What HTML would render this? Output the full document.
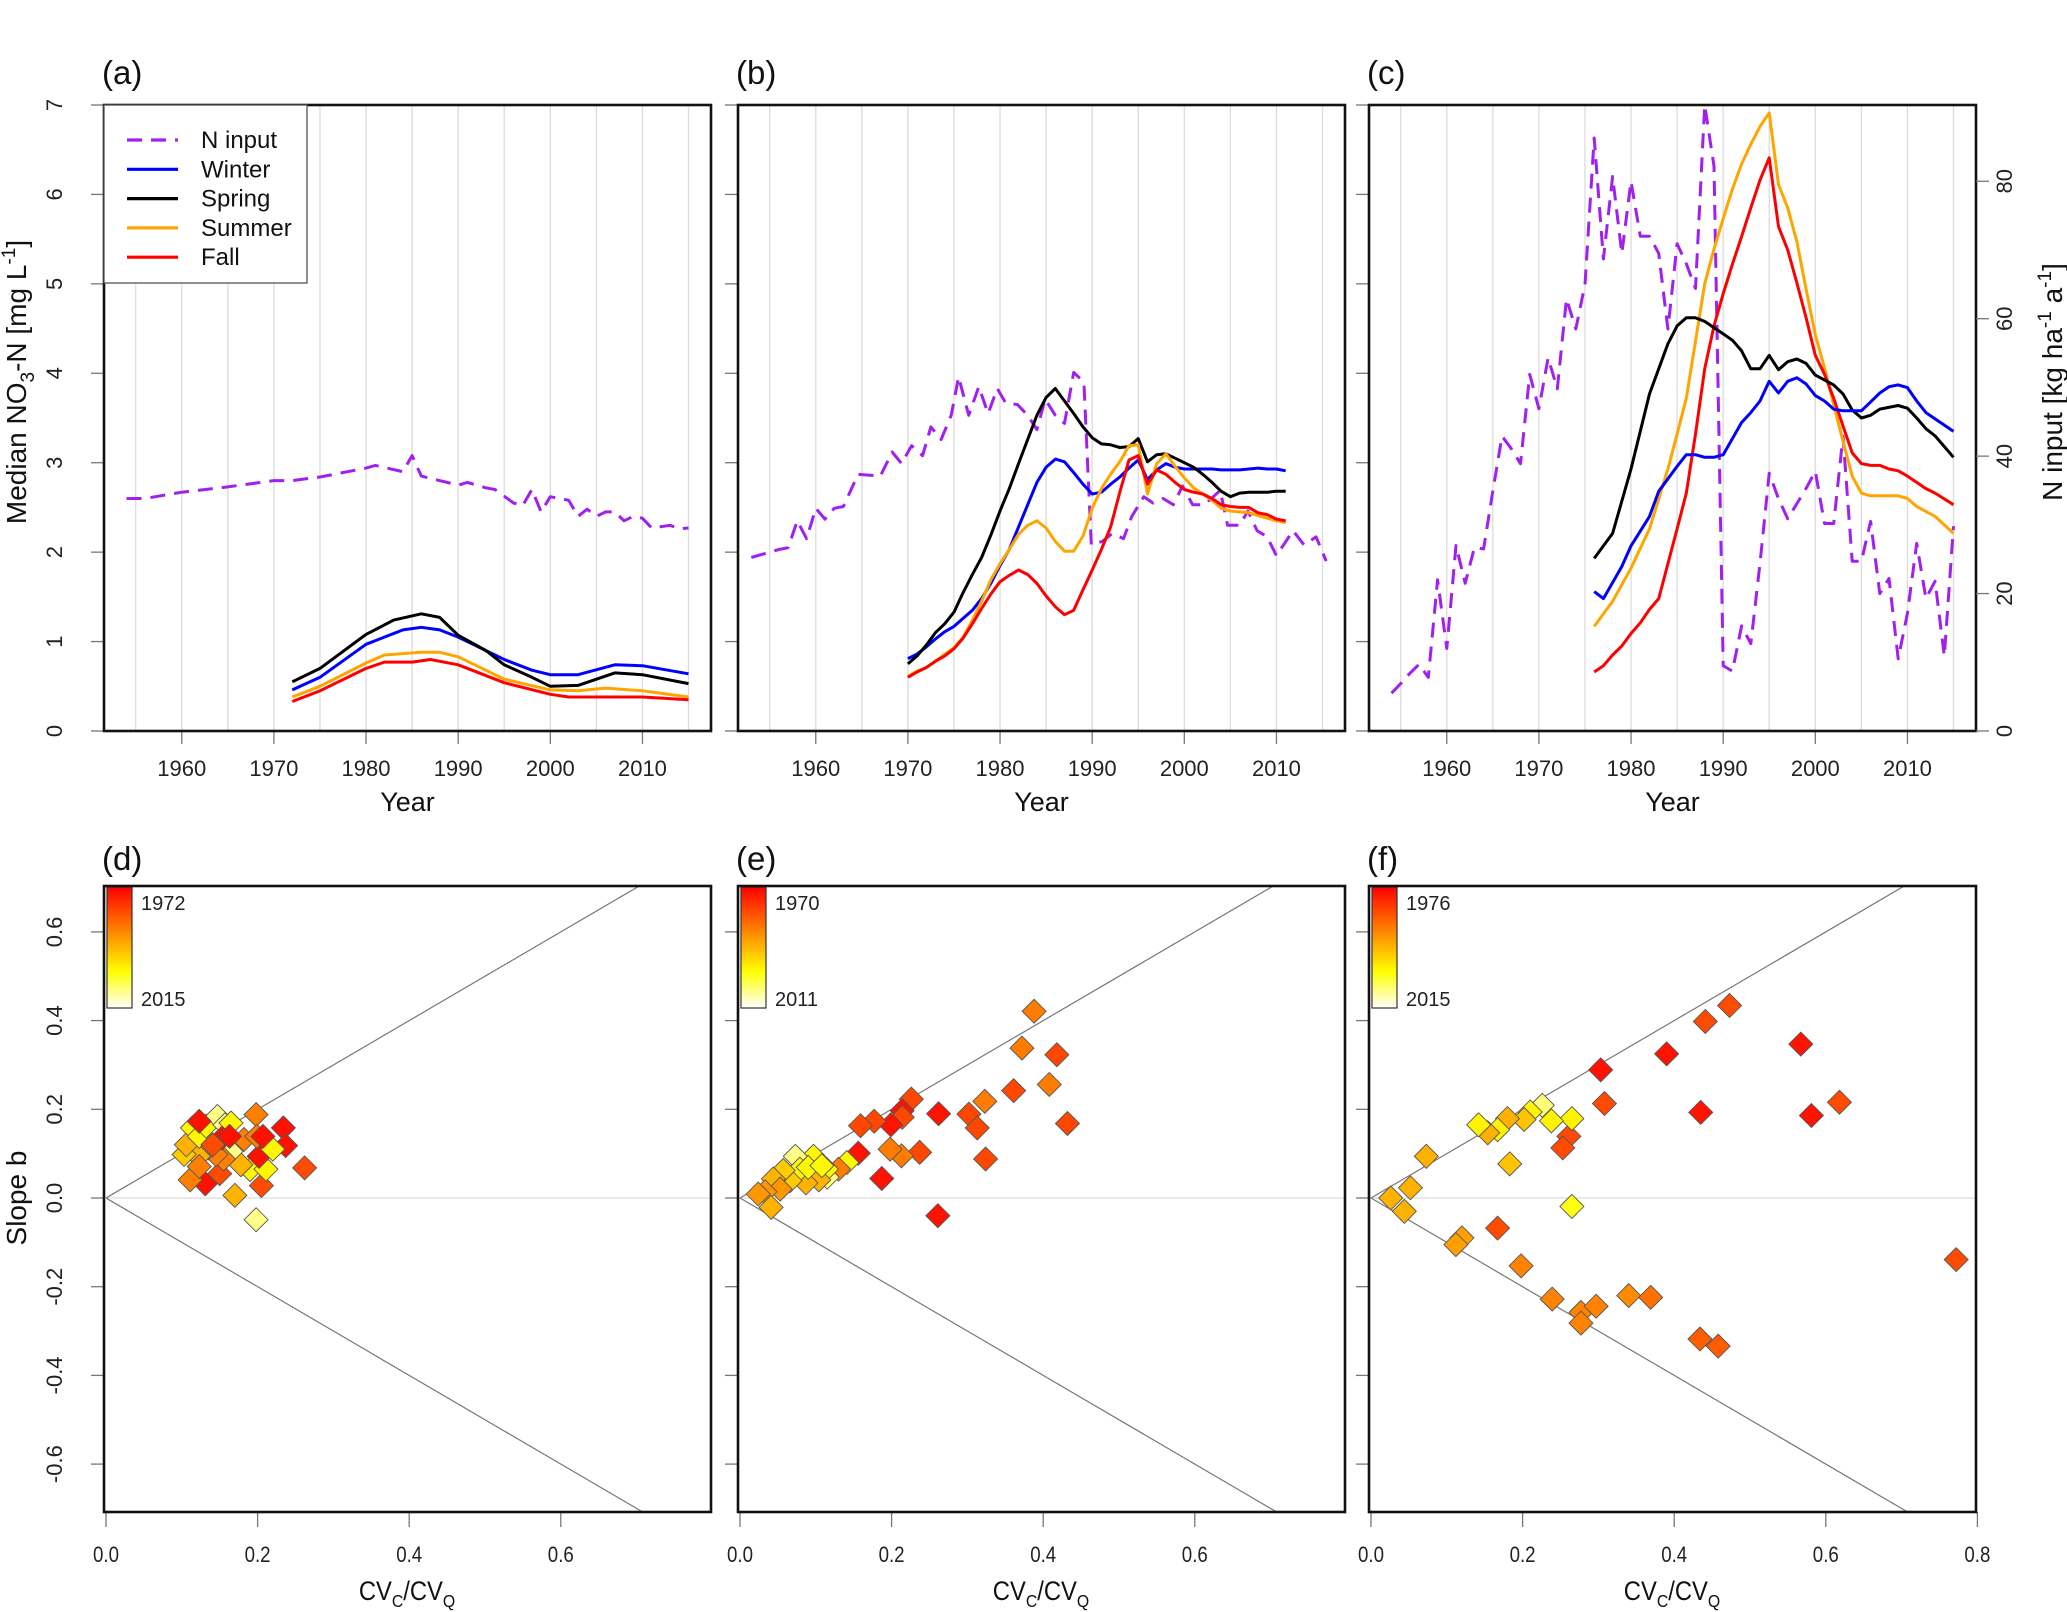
<!DOCTYPE html>
<html><head><meta charset="utf-8"><style>
html,body{margin:0;padding:0;background:#fff;}
svg{display:block;font-family:"Liberation Sans",Arial,sans-serif;}
</style></head><body>
<svg id="fig" width="2067" height="1612" viewBox="0 0 2067 1612" xmlns="http://www.w3.org/2000/svg">
<defs>
<linearGradient id="cbar" x1="0" y1="0" x2="0" y2="1">
<stop offset="0" stop-color="#ff0000"/><stop offset="0.35" stop-color="#ff8000"/><stop offset="0.7" stop-color="#ffff00"/><stop offset="1" stop-color="#ffffff"/>
</linearGradient>
<clipPath id="clipD"><rect x="106" y="886" width="607" height="626"/></clipPath>
<clipPath id="clipE"><rect x="738" y="886" width="607" height="626"/></clipPath>
<clipPath id="clipF"><rect x="1369" y="886" width="607" height="626"/></clipPath>
</defs>
</svg>
<script>
// ---------- data: top panels (NO3-N in mg/L; N input a,b on left scale, c in kg/ha/a) ----------
const aNYears=[1954,1956,1960,1965,1970,1972,1975,1980,1981,1984,1985,1986,1990,1991,1993,1994,1996,1997,1998,1999,2000,2001,2002,2003,2004,2005,2006,2007,2008,2009,2010,2011,2013,2014,2015];
const aNVals=[2.6,2.6,2.67,2.73,2.8,2.8,2.84,2.94,2.97,2.9,3.08,2.85,2.75,2.78,2.72,2.70,2.55,2.52,2.7,2.45,2.62,2.6,2.58,2.4,2.48,2.40,2.45,2.45,2.35,2.40,2.38,2.27,2.3,2.26,2.27];
const aWinYears=[1972,1975,1980,1984,1986,1988,1990,1992,1995,1998,2000,2003,2007,2010,2015];
const aWinVals=[0.46,0.60,0.97,1.13,1.16,1.13,1.05,0.95,0.80,0.68,0.63,0.63,0.74,0.73,0.64];
const aSprYears=[1972,1975,1980,1983,1986,1988,1990,1993,1995,1998,2000,2003,2007,2010,2015];
const aSprVals=[0.55,0.70,1.08,1.24,1.31,1.27,1.07,0.90,0.74,0.60,0.50,0.51,0.65,0.63,0.53];
const aSumYears=[1972,1975,1980,1982,1986,1988,1990,1995,2000,2003,2006,2010,2015];
const aSumVals=[0.38,0.50,0.76,0.85,0.88,0.88,0.83,0.58,0.46,0.45,0.48,0.45,0.38];
const aFalYears=[1972,1975,1980,1982,1985,1987,1990,1995,2000,2002,2010,2015];
const aFalVals=[0.33,0.45,0.70,0.77,0.77,0.80,0.74,0.54,0.41,0.38,0.38,0.35];

const bYears=[1970,1971,1972,1973,1974,1975,1976,1977,1978,1979,1980,1981,1982,1983,1984,1985,1986,1987,1988,1989,1990,1991,1992,1993,1994,1995,1996,1997,1998,1999,2000,2001,2002,2003,2004,2005,2006,2007,2008,2009,2010,2011];
const bSprVals=[0.75,0.84,0.96,1.10,1.20,1.33,1.55,1.75,1.94,2.19,2.46,2.71,2.99,3.26,3.53,3.73,3.83,3.69,3.55,3.40,3.28,3.21,3.20,3.17,3.18,3.27,3.01,3.09,3.10,3.05,3.00,2.95,2.87,2.78,2.68,2.62,2.66,2.67,2.67,2.67,2.68,2.68];
const bWinVals=[0.81,0.86,0.94,1.03,1.11,1.17,1.26,1.35,1.48,1.65,1.85,2.03,2.28,2.53,2.78,2.95,3.04,3.01,2.89,2.76,2.65,2.67,2.76,2.84,2.94,3.03,2.81,2.92,2.99,2.95,2.93,2.93,2.93,2.93,2.92,2.92,2.92,2.93,2.94,2.93,2.93,2.91];
const bSumVals=[0.61,0.67,0.71,0.78,0.86,0.93,1.05,1.24,1.45,1.69,1.87,2.03,2.20,2.30,2.35,2.27,2.12,2.01,2.01,2.18,2.49,2.71,2.87,3.01,3.19,3.20,2.65,2.99,3.10,2.96,2.83,2.72,2.65,2.58,2.49,2.46,2.45,2.44,2.41,2.38,2.35,2.33];
const bFalVals=[0.60,0.66,0.71,0.78,0.84,0.92,1.04,1.20,1.37,1.53,1.67,1.74,1.80,1.75,1.65,1.51,1.39,1.30,1.35,1.58,1.80,2.03,2.28,2.67,3.03,3.08,2.76,2.92,2.87,2.78,2.70,2.67,2.65,2.60,2.53,2.51,2.50,2.50,2.44,2.42,2.37,2.35];
const bNYears=[1953,1956,1957,1958,1959,1960,1961,1962,1963,1964.6,1967,1968.3,1969.3,1970.4,1971.6,1972.5,1973.6,1974.7,1975.5,1976.6,1977.7,1978.7,1979.7,1980.6,1981.9,1983,1984,1984.9,1986,1987,1988,1989.1,1989.9,1991.1,1992.2,1993.4,1994.3,1995.6,1996.6,1997.7,1998.8,1999.8,2000.9,2002.2,2003.9,2004.7,2006,2006.9,2007.9,2009,2010,2011.8,2013,2014.3,2015.4];
const bNVals=[1.94,2.03,2.05,2.35,2.15,2.49,2.37,2.49,2.51,2.87,2.85,3.12,2.99,3.19,3.08,3.40,3.26,3.53,3.96,3.53,3.85,3.55,3.83,3.67,3.65,3.53,3.37,3.71,3.53,3.44,4.01,3.90,2.08,2.12,2.21,2.15,2.40,2.62,2.55,2.60,2.53,2.74,2.53,2.53,2.69,2.30,2.30,2.46,2.24,2.17,1.96,2.24,2.08,2.17,1.90];

const cSprYears=[1976,1978,1980,1982,1984,1985,1986,1987,1988,1990,1991,1992,1993,1994,1995,1996,1997,1998,1999,2000,2002,2003,2004,2005,2006,2007,2009,2010,2011,2012,2013,2015];
const cSprVals=[1.93,2.21,2.93,3.77,4.33,4.53,4.62,4.62,4.58,4.44,4.37,4.25,4.05,4.05,4.20,4.04,4.13,4.16,4.11,3.98,3.87,3.77,3.59,3.50,3.53,3.60,3.64,3.61,3.50,3.38,3.30,3.06];
const cWinYears=[1976,1977,1979,1980,1982,1983,1984,1985,1986,1987,1988,1989,1990,1991,1992,1993,1994,1995,1996,1997,1998,1999,2000,2001,2002,2003,2005,2006,2007,2008,2009,2010,2011,2012,2013,2015];
const cWinVals=[1.56,1.48,1.84,2.07,2.40,2.68,2.82,2.96,3.09,3.09,3.06,3.06,3.09,3.27,3.45,3.56,3.69,3.91,3.78,3.91,3.95,3.88,3.75,3.69,3.60,3.58,3.58,3.68,3.78,3.85,3.87,3.84,3.69,3.56,3.49,3.35];
const cSumYears=[1976,1978,1980,1982,1984,1985,1986,1987,1988,1989,1990,1991,1992,1993,1994,1995,1996,1997,1998,1999,2000,2001,2002,2003,2004,2005,2006,2008,2009,2010,2011,2013,2015];
const cSumVals=[1.17,1.45,1.82,2.26,2.93,3.32,3.72,4.36,5.00,5.39,5.73,6.06,6.34,6.56,6.76,6.91,6.11,5.85,5.47,4.94,4.43,4.06,3.65,3.24,2.85,2.66,2.63,2.63,2.63,2.60,2.51,2.40,2.21];
const cFalYears=[1976,1977,1978,1979,1980,1981,1982,1983,1984,1985,1986,1987,1988,1989,1990,1991,1992,1993,1994,1995,1996,1997,1998,1999,2000,2001,2002,2003,2004,2005,2006,2007,2008,2009,2010,2011,2012,2013,2015];
const cFalVals=[0.66,0.73,0.85,0.95,1.09,1.21,1.36,1.48,1.87,2.26,2.66,3.32,4.05,4.53,4.89,5.22,5.53,5.85,6.16,6.41,5.64,5.38,5.01,4.62,4.20,3.99,3.72,3.41,3.11,2.99,2.97,2.97,2.93,2.91,2.85,2.78,2.71,2.66,2.53];
const cNYears=[1954,1955,1956,1957,1958,1959,1960,1961,1962,1963,1964,1965,1966,1967,1968,1969,1970,1971,1972,1973,1974,1975,1976,1977,1978,1979,1980,1981,1982,1983,1984,1985,1986,1987,1988,1989,1990,1991,1992,1993,1994,1995,1996,1997,1998,1999,2000,2001,2002,2003,2004,2005,2006,2007,2008,2009,2010,2011,2012,2013,2014,2015];
const cNVals=[5.5,6.9,8.4,9.7,7.8,22,12,27,21.5,26.7,26.5,34.9,42.9,41.1,38.9,51.9,46.9,54.3,49.8,62.9,58.5,65,86.3,68.7,80.7,69.5,80,72,72,69.5,58.5,70.9,68,64.4,91.1,82.2,9.5,8.7,15.3,12.7,24.4,37.5,33.8,30.9,33.1,35.3,37.8,30.2,30.2,42.9,24.7,24.7,30.5,20,22.2,10.5,17.1,27.3,19.3,21.8,10.9,29.8];

// ---------- data: bottom panels (CVc/CVQ, slope b, year) ----------
const dX=[.198,.234,.237,.262,.205,.198,.170,.131,.111,.150,.190,.211,.178,.202,.220,.182,.199,.207,.165,.155,.145,.135,.122,.103,.106,.123,.114,.123,.132,.147,.157,.165,.153,.163,.123,.141];
const dY=[.188,.158,.118,.068,.028,-.049,.006,.032,.041,.055,.064,.065,.075,.094,.110,.132,.139,.139,.105,.088,.098,.113,.094,.098,.120,.071,.158,.139,.162,.184,.165,.169,.135,.139,.173,.120];
const dYr=[1987,1974,1974,1981,1981,2009,1993,1974,1987,1981,2001,2001,1993,1974,2001,1987,1987,1974,2009,1987,1987,1987,1993,1996,1993,1987,2001,2001,2001,2009,2009,2001,1974,1974,1974,1981];
const eX=[.388,.372,.418,.361,.408,.323,.432,.226,.214,.214,.199,.177,.159,.262,.302,.313,.324,.237,.213,.198,.156,.187,.261,.141,.130,.115,.114,.104,.097,.087,.073,.079,.066,.057,.044,.053,.033,.024,.041,.090,.108];
const eY=[.421,.338,.323,.242,.256,.218,.168,.223,.197,.182,.165,.173,.163,.190,.189,.158,.088,.103,.095,.110,.101,.044,-.040,.080,.065,.047,.065,.041,.094,.034,.094,.065,.039,.062,.043,.020,.014,.009,-.021,.069,.073];
const eYr=[1984,1984,1978,1978,1984,1984,1978,1978,1972,1978,1972,1978,1978,1972,1978,1978,1978,1978,1984,1984,1972,1972,1972,1998,1984,2005,1998,1990,1998,1990,2005,1998,1993,1993,1990,1987,1987,1987,1990,1998,1998];
const fX=[.473,.441,.567,.390,.303,.308,.435,.581,.618,.772,.261,.253,.265,.238,.226,.210,.202,.180,.167,.154,.142,.183,.073,.052,.026,.044,.265,.167,.120,.112,.198,.239,.277,.277,.297,.340,.369,.434,.458];
const fY=[.434,.398,.347,.325,.289,.213,.193,.186,.216,-.139,.139,.113,.179,.174,.209,.194,.177,.179,.154,.147,.165,.077,.094,.023,0,-.030,-.019,-.068,-.090,-.105,-.153,-.228,-.258,-.282,-.244,-.220,-.224,-.318,-.334];
const fYr=[1984,1984,1978,1978,1978,1984,1978,1978,1984,1984,1984,1984,2002,2002,2009,2002,1997,1995,2002,1995,2002,1997,1995,1995,1995,1995,2004,1984,1993,1993,1990,1990,1990,1990,1990,1991,1988,1986,1986];

const yearTicks=[1960,1970,1980,1990,2000,2010];
const gridYears=[1955,1960,1965,1970,1975,1980,1985,1990,1995,2000,2005,2010,2015];
const leftTicks=[0,1,2,3,4,5,6,7];
const rightTicks=[0,20,40,60,80];
const cvTicks=[0,0.2,0.4,0.6];
const slopeTicks=[-0.6,-0.4,-0.2,0,0.2,0.4,0.6];

// ---------- geometry ----------
const NS="http://www.w3.org/2000/svg";
const svg=document.getElementById('fig');
const TOP={y0:105,y1:731,w:607};
const BOT={y0:886,y1:1512,w:607};
const LEFTS=[104,738,1369];
function xYear(p,yr){return LEFTS[p]+(yr-1951.56)/65.88*TOP.w;}
function yL(v){return TOP.y1-v/7*(TOP.y1-TOP.y0);}
function yN(kg){return TOP.y1-kg/91.1*(TOP.y1-TOP.y0);}
function xCV(p,v){return LEFTS[p]+2+v*758;}
function ySl(v){return 1198-v*443.5;}
function mk(tag,attrs,parent){const e=document.createElementNS(NS,tag);for(const k in attrs)e.setAttribute(k,attrs[k]);(parent||svg).appendChild(e);return e;}
function txt(s,attrs,parent){const e=mk('text',attrs,parent);e.textContent=s;return e;}
function heat(yr,a,b){let t=(yr-a)/(b-a);t=Math.max(0,Math.min(1,t));let r=255,g,bl;if(t<0.7){g=Math.round(255*t/0.7);bl=0;}else{g=255;bl=Math.round(255*(t-0.7)/0.3);}return `rgb(${r},${g},${bl})`;}
function linePath(p,xs,vs,yf){return xs.map((x,i)=>(i?'L':'M')+xYear(p,x).toFixed(1)+','+yf(vs[i]).toFixed(1)).join(' ');}

// ---------- top panels ----------
const letters=['(a)','(b)','(c)'];
for(let p=0;p<3;p++){
  const L=LEFTS[p];
  const g=mk('g',{});
  
  
  gridYears.forEach(yr=>{const l=mk('line',{x1:xYear(p,yr),x2:xYear(p,yr),y1:TOP.y0,y2:TOP.y1,stroke:'#dcdcdc','stroke-width':1.3},g);
    
    });
  leftTicks.forEach(v=>{mk('line',{x1:L-13,x2:L,y1:yL(v),y2:yL(v),stroke:'#777','stroke-width':1.3},g);
    if(p===0){const t=txt(String(v),{x:62,y:yL(v),'font-size':22,'text-anchor':'middle',transform:`rotate(-90 62 ${yL(v)})`,fill:'#222'},g);
      
      }});
  yearTicks.forEach(yr=>{const x=xYear(p,yr);mk('line',{x1:x,x2:x,y1:TOP.y1,y2:TOP.y1+13,stroke:'#777','stroke-width':1.3},g);
    const t=txt(String(yr),{x:x,y:776,'font-size':22,'text-anchor':'middle',fill:'#222'},g);
    
    });
  const yt=txt('Year',{x:L+TOP.w/2,y:811,'font-size':27,'text-anchor':'middle',fill:'#111'},g);
  
  
  const lt=txt(letters[p],{x:L-2,y:84,'font-size':33,fill:'#111'},g);
  
  
}
function series(p,xs,vs,yf,color,name,dash){
  const e=mk('path',{d:linePath(p,xs,vs,yf),fill:'none',stroke:color,'stroke-width':3,'stroke-linejoin':'round'});
  if(dash)e.setAttribute('stroke-dasharray','15 9');
  
  
}
series(0,aNYears,aNVals,yL,'#a020f0','a-n-input-line',true);
series(0,aWinYears,aWinVals,yL,'#0000ff','a-winter-line');
series(0,aSprYears,aSprVals,yL,'#000000','a-spring-line');
series(0,aSumYears,aSumVals,yL,'#ffa500','a-summer-line');
series(0,aFalYears,aFalVals,yL,'#ff0000','a-fall-line');
series(1,bNYears,bNVals,yL,'#a020f0','b-n-input-line',true);
series(1,bYears,bWinVals,yL,'#0000ff','b-winter-line');
series(1,bYears,bSprVals,yL,'#000000','b-spring-line');
series(1,bYears,bSumVals,yL,'#ffa500','b-summer-line');
series(1,bYears,bFalVals,yL,'#ff0000','b-fall-line');
series(2,cNYears,cNVals,yN,'#a020f0','c-n-input-line',true);
series(2,cSumYears,cSumVals,yL,'#ffa500','c-summer-line');
series(2,cFalYears,cFalVals,yL,'#ff0000','c-fall-line');
series(2,cSprYears,cSprVals,yL,'#000000','c-spring-line');
series(2,cWinYears,cWinVals,yL,'#0000ff','c-winter-line');
for(let p=0;p<3;p++){const r=mk('rect',{x:LEFTS[p],y:TOP.y0,width:TOP.w,height:TOP.y1-TOP.y0,fill:'none',stroke:'#111','stroke-width':2.6});
  
  }
// right axis of c
const RX=LEFTS[2]+TOP.w;
rightTicks.forEach(v=>{mk('line',{x1:RX,x2:RX+13,y1:yN(v),y2:yN(v),stroke:'#777','stroke-width':1.3});
  const t=txt(String(v),{x:2012,y:yN(v),'font-size':22,'text-anchor':'middle',transform:`rotate(-90 2012 ${yN(v)})`,fill:'#222'});
  
  });
// axis titles
svg.insertAdjacentHTML('beforeend',`<text x="26" y="382" font-size="28" text-anchor="middle" transform="rotate(-90 26 382)" fill="#111">Median NO<tspan font-size="19" dy="8">3</tspan><tspan dy="-8">-N [mg L</tspan><tspan font-size="19" dy="-11">-1</tspan><tspan dy="11">]</tspan></text>
<text x="2062" y="382" font-size="28" text-anchor="middle" transform="rotate(-90 2062 382)" fill="#111">N input [kg ha<tspan font-size="19" dy="-11">-1</tspan><tspan dy="11"> a</tspan><tspan font-size="19" dy="-11">-1</tspan><tspan dy="11">]</tspan></text>
<text x="26" y="1198" font-size="28" text-anchor="middle" transform="rotate(-90 26 1198)" fill="#111">Slope b</text>`);
// legend
const lg=mk('g',{});


mk('rect',{x:104,y:105,width:203,height:178,fill:'#fff',stroke:'#555','stroke-width':1.3},lg);
const legNames=['N input','Winter','Spring','Summer','Fall'];
const legCols=['#a020f0','#0000ff','#000000','#ffa500','#ff0000'];
legNames.forEach((n,i)=>{const y=140+i*29.3;
  const l=mk('line',{x1:127,x2:178,y1:y,y2:y,stroke:legCols[i],'stroke-width':3.2},lg);
  if(i===0)l.setAttribute('stroke-dasharray','15 9');
  
  
  const t=txt(n,{x:201,y:y+8,'font-size':24,fill:'#111'},lg);
  
  });

// ---------- bottom panels ----------
const bl=['(d)','(e)','(f)'];
const clips=['clipD','clipE','clipF'];
const ranges=[[1972,2015],[1970,2011],[1976,2015]];
const pts=[[dX,dY,dYr],[eX,eY,eYr],[fX,fY,fYr]];
for(let p=0;p<3;p++){
  const L=LEFTS[p];
  const g=mk('g',{});
  
  
  const cg=mk('g',{'clip-path':`url(#${clips[p]})`},g);
  mk('line',{x1:L,x2:L+BOT.w,y1:ySl(0),y2:ySl(0),stroke:'#dcdcdc','stroke-width':1.3},cg);
  const ref1=mk('line',{x1:xCV(p,0),y1:ySl(0),x2:xCV(p,1),y2:ySl(1),stroke:'#777','stroke-width':1.2},cg);
  
  
  const ref2=mk('line',{x1:xCV(p,0),y1:ySl(0),x2:xCV(p,1),y2:ySl(-1),stroke:'#777','stroke-width':1.2},cg);
  
  
  const [X,Y,Yr]=pts[p];
  X.forEach((xv,i)=>{const cx=xCV(p,xv),cy=ySl(Y[i]),h=12;
    const d=mk('polygon',{points:`${cx},${cy-h} ${cx+h},${cy} ${cx},${cy+h} ${cx-h},${cy}`,fill:heat(Yr[i],ranges[p][0],ranges[p][1]),stroke:'#555','stroke-width':0.9},cg);
    
    });
  slopeTicks.forEach(v=>{mk('line',{x1:L-13,x2:L,y1:ySl(v),y2:ySl(v),stroke:'#777','stroke-width':1.3},g);
    if(p===0){const s=v.toFixed(1);const t=txt(s,{x:62,y:ySl(v),'font-size':22,'text-anchor':'middle',transform:`rotate(-90 62 ${ySl(v)})`,fill:'#222'},g);
      
      }});
  const xt=(p===2)?cvTicks.concat([0.8]):cvTicks;
  xt.forEach(v=>{const x=xCV(p,v);mk('line',{x1:x,x2:x,y1:BOT.y1,y2:BOT.y1+15,stroke:'#777','stroke-width':1.3},g);
    const t=txt(v.toFixed(1),{x:x,y:1562,'font-size':22,'text-anchor':'middle',fill:'#222',transform:`translate(${x} 0) scale(0.85 1) translate(${-x} 0)`},g);
    
    });
  g.insertAdjacentHTML('beforeend',`<text x="${L+303}" y="1600" font-size="27" text-anchor="middle" fill="#111" transform="translate(${L+303} 0) scale(0.88 1) translate(${-(L+303)} 0)">CV<tspan font-size="18" dy="7">C</tspan><tspan dy="-7">/CV</tspan><tspan font-size="18" dy="7">Q</tspan></text>`);
  const cb=mk('rect',{x:L+3,y:887,width:25,height:121,fill:'url(#cbar)',stroke:'#333','stroke-width':1.2},g);
  
  
  const t1=txt(String(ranges[p][0]),{x:L+37,y:910,'font-size':20,fill:'#222'},g);
  
  
  const t2=txt(String(ranges[p][1]),{x:L+37,y:1006,'font-size':20,fill:'#222'},g);
  
  
  const fr=mk('rect',{x:L,y:BOT.y0,width:BOT.w,height:BOT.y1-BOT.y0,fill:'none',stroke:'#111','stroke-width':2.6},g);
  
  
  const lt=txt(bl[p],{x:L-2,y:870,'font-size':33,fill:'#111'},g);
  
  
}
</script>
</body></html>
